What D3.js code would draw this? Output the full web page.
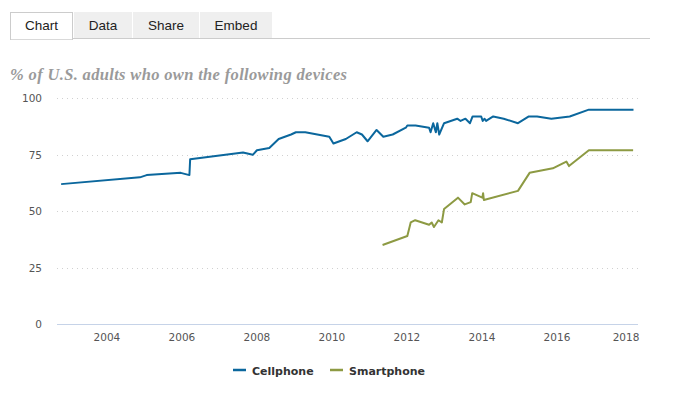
<!DOCTYPE html>
<html><head><meta charset="utf-8">
<script src="https://cdn.jsdelivr.net/npm/d3@7"></script>
<style>
body{margin:0;background:#fff;}
svg{display:block;}
</style></head>
<body>
<svg id="c" width="673" height="398"></svg>
<script>
const tabs = ["Chart","Data","Share","Embed"];
const title = "% of U.S. adults who own the following devices";
const yTicks = [0,25,50,75,100];
const xTicks = [2004,2006,2008,2010,2012,2014,2016,2018];
const seriesNames = ["Cellphone","Smartphone"];

const cellDates = [2002.78,2004.88,2005.06,2005.97,2006.2,2006.22,2007.63,2007.89,2008.0,2008.33,2008.58,2008.91,2009.04,2009.29,2009.93,2010.04,2010.37,2010.66,2010.8,2010.95,2011.19,2011.37,2011.62,2011.97,2012.01,2012.1,2012.23,2012.59,2012.63,2012.7,2012.77,2012.81,2012.86,2012.99,2013.34,2013.43,2013.56,2013.68,2013.75,2013.98,2014.02,2014.07,2014.11,2014.3,2014.58,2014.96,2015.25,2015.47,2015.85,2016.34,2016.85,2018.04];
const cellValues = [62,65,66,67,66,73,76,75,77,78,82,84,85,85,83,80,82,85,84,81,86,83,84,87,88,88,88,87,85,89,85,89,84,89,91,90,91,89,92,92,90,91,90,92,91,89,92,92,91,92,95,95];

const smartDates = [2011.35,2012.01,2012.1,2012.22,2012.59,2012.66,2012.72,2012.84,2012.93,2012.99,2013.36,2013.54,2013.7,2013.74,2014.01,2014.03,2014.05,2014.96,2015.27,2015.89,2016.25,2016.32,2016.85,2018.03];
const smartValues = [35,39,45,46,44,45,43,46,45,51,56,53,54,58,56,58,55,59,67,69,72,70,77,77];

const colors = ["#0b679d","#8d9a43"];

const svg = d3.select("#c");

// tabs
const tabX = [10,74,133,200], tabW = [63,58,66,72];
tabs.forEach((t,i)=>{
  if(i===0) return;
  svg.append("rect").attr("x",tabX[i]).attr("y",12).attr("width",tabW[i]).attr("height",26)
    .attr("fill","#efefef");
  svg.append("text").attr("x",tabX[i]+tabW[i]/2).attr("y",30).attr("text-anchor","middle")
    .attr("font-family","Liberation Sans, Arial, sans-serif").attr("font-size",13.5).attr("fill","#222").text(t);
});
svg.append("line").attr("x1",73).attr("x2",650).attr("y1",38.5).attr("y2",38.5).attr("stroke","#ccc");
svg.append("rect").attr("x",10.5).attr("y",12.5).attr("width",62).attr("height",27).attr("fill","#fff").attr("stroke","#ccc");
svg.append("line").attr("x1",11).attr("x2",72).attr("y1",38.5).attr("y2",38.5).attr("stroke","#fff").attr("stroke-width",1.5);
svg.append("text").attr("x",41.5).attr("y",30).attr("text-anchor","middle")
  .attr("font-family","Liberation Sans, Arial, sans-serif").attr("font-size",13.5).attr("fill","#222").text(tabs[0]);

// title
svg.append("text").attr("x",10).attr("y",80)
  .attr("font-family","Liberation Serif, Times New Roman, serif").attr("font-style","italic").attr("font-weight","bold")
  .attr("font-size",16.5).attr("fill","#9a9a9a").attr("textLength",337).attr("lengthAdjust","spacing").text(title);

const x = d3.scaleLinear().domain([2002.67,2018.16]).range([57,638]);
const y = d3.scaleLinear().domain([0,100]).range([324,98.4]);

// grid
yTicks.forEach(v=>{
  if(v>0){
    svg.append("line").attr("x1",57).attr("x2",638).attr("y1",Math.round(y(v))+0.5).attr("y2",Math.round(y(v))+0.5)
      .attr("stroke","#d0d0d0").attr("stroke-dasharray","1,4");
  }
  svg.append("text").attr("x",42).attr("y",y(v)+4).attr("text-anchor","end")
    .attr("font-family","DejaVu Sans, Verdana, sans-serif").attr("font-size",10.5).attr("fill","#555").text(v);
});
svg.append("line").attr("x1",57).attr("x2",638).attr("y1",324.5).attr("y2",324.5).attr("stroke","#c6d3e8");

xTicks.forEach((t,i)=>{
  let px = x(t);
  svg.append("text").attr("x", Math.min(px, 626)).attr("y",341).attr("text-anchor","middle")
    .attr("font-family","DejaVu Sans, Verdana, sans-serif").attr("font-size",10.5).attr("fill","#555").text(t);
});

const line = d3.line().x(d=>x(d[0])).y(d=>y(d[1]));
const cell = cellDates.map((d,i)=>[d,cellValues[i]]);
const smart = smartDates.map((d,i)=>[d,smartValues[i]]);
[cell,smart].forEach((s,i)=>{
  svg.append("path").datum(s).attr("d",line).attr("fill","none").attr("stroke",colors[i])
    .attr("stroke-width",2).attr("stroke-linejoin","round");
});

// legend
const legX = [233,330];
seriesNames.forEach((n,i)=>{
  svg.append("line").attr("x1",legX[i]).attr("x2",legX[i]+13).attr("y1",370).attr("y2",370)
    .attr("stroke",colors[i]).attr("stroke-width",2.5);
  svg.append("text").attr("x",legX[i]+19).attr("y",374.5)
    .attr("font-family","DejaVu Sans, Verdana, sans-serif").attr("font-weight","bold").attr("font-size",11).attr("fill","#333").text(n);
});
</script>
</body></html>
